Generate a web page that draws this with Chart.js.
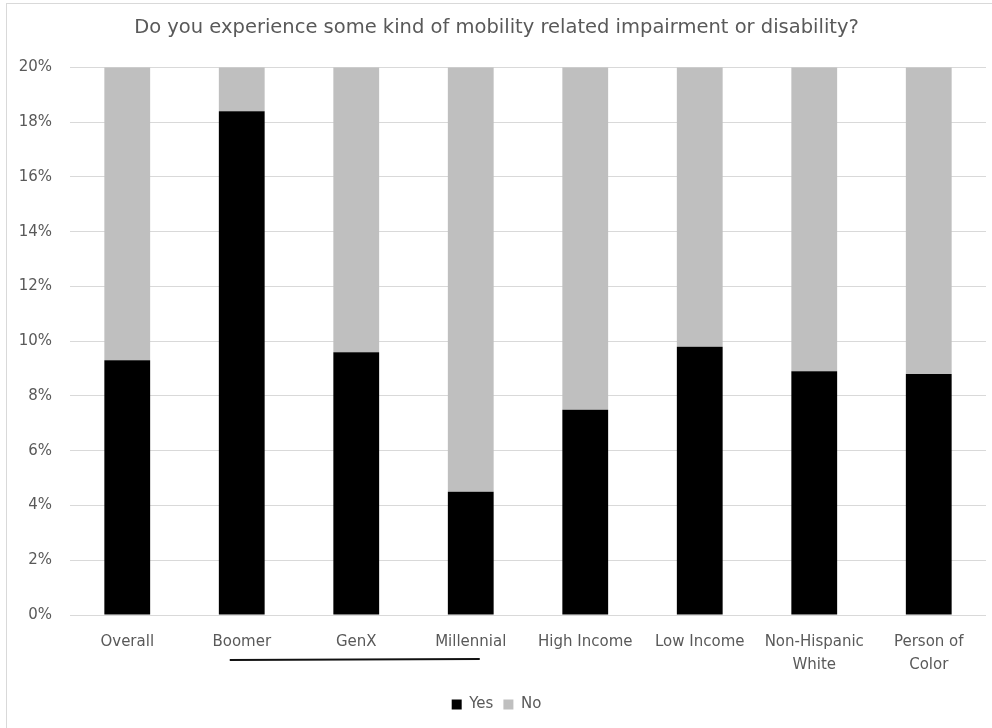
<html><head>
    <meta charset="UTF-8">
    <title>Mobility Impairment</title>
    <script src="https://cdn.jsdelivr.net/npm/chart.js"></script>
    <style>
        body {
            margin: 0;
            padding: 0;
            background-color: white;
            overflow: hidden;
        }
        .frame {
            position: absolute;
            left: 6px;
            top: 3px;
            width: 986px;
            height: 725px;
            border-left: 1px solid #d9d9d9;
            border-top: 1px solid #d9d9d9;
        }
        canvas {
            display: block;
        }
    </style>
</head>
<body>
    <div class="frame">
        <canvas id="mobilityChart" width="985" height="724"></canvas>
    </div>
    <script>
        // Categories (multi-line labels as arrays)
        const categories = ['Overall', 'Boomer', 'GenX', 'Millennial', 'High Income', 'Low Income',
            ['Non-Hispanic', 'White'], ['Person of', 'Color']];

        // Share answering Yes / No, in percent
        const yesValues = [9.3, 18.4, 9.6, 4.5, 7.5, 9.8, 8.9, 8.8];
        const noValues = [90.7, 81.6, 90.4, 95.5, 92.5, 90.2, 91.1, 91.2];

        // Axis range
        const yMax = 20;
        const yStep = 2;

        const textColor = '#595959';
        const font = "'DejaVu Sans', sans-serif";

        // Hand-drawn underline beneath the generation groups (Boomer..Millennial)
        const underlinePlugin = {
            id: 'underline',
            afterDraw(chart) {
                const x = chart.scales.x;
                const ctx = chart.ctx;
                const y = chart.chartArea.bottom + 44;
                ctx.save();
                ctx.strokeStyle = '#111';
                ctx.lineWidth = 2;
                ctx.beginPath();
                ctx.moveTo(x.getPixelForValue(1) - 12, y + 1);
                ctx.lineTo(x.getPixelForValue(3) + 9, y);
                ctx.stroke();
                ctx.restore();
            }
        };

        const ctx = document.getElementById('mobilityChart').getContext('2d');
        new Chart(ctx, {
            type: 'bar',
            data: {
                labels: categories,
                datasets: [
                    { label: 'Yes', data: yesValues, backgroundColor: '#000000' },
                    { label: 'No', data: noValues, backgroundColor: '#bfbfbf', clip: 0 }
                ]
            },
            options: {
                responsive: false,
                animation: false,
                categoryPercentage: 1,
                barPercentage: 0.4,
                layout: { padding: { left: 0, right: 6, top: 0, bottom: 6 } },
                scales: {
                    x: {
                        stacked: true,
                        grid: { display: false, drawTicks: false },
                        border: { display: false },
                        ticks: {
                            color: textColor,
                            font: { family: font, size: 15, lineHeight: 1.5 },
                            padding: 16,
                            maxRotation: 0,
                            autoSkip: false
                        },
                        afterFit: s => { s.height = 72; }
                    },
                    y: {
                        stacked: true,
                        min: 0,
                        max: yMax,
                        grid: { color: '#d9d9d9', drawTicks: false },
                        border: { display: false },
                        ticks: {
                            stepSize: yStep,
                            color: textColor,
                            font: { family: font, size: 15 },
                            padding: 18,
                            callback: v => v + '%'
                        },
                        afterFit: s => { s.width = 63; }
                    }
                },
                plugins: {
                    title: {
                        display: true,
                        text: 'Do you experience some kind of mobility related impairment or disability?',
                        color: textColor,
                        font: { family: font, size: 19.5, weight: 'normal' },
                        padding: { top: 12, bottom: 28 }
                    },
                    legend: {
                        position: 'bottom',
                        labels: {
                            color: textColor,
                            font: { family: font, size: 15 },
                            boxWidth: 10,
                            boxHeight: 10,
                            padding: 10
                        }
                    },
                    tooltip: { enabled: false }
                }
            },
            plugins: [underlinePlugin]
        });
    </script>
</body></html>
